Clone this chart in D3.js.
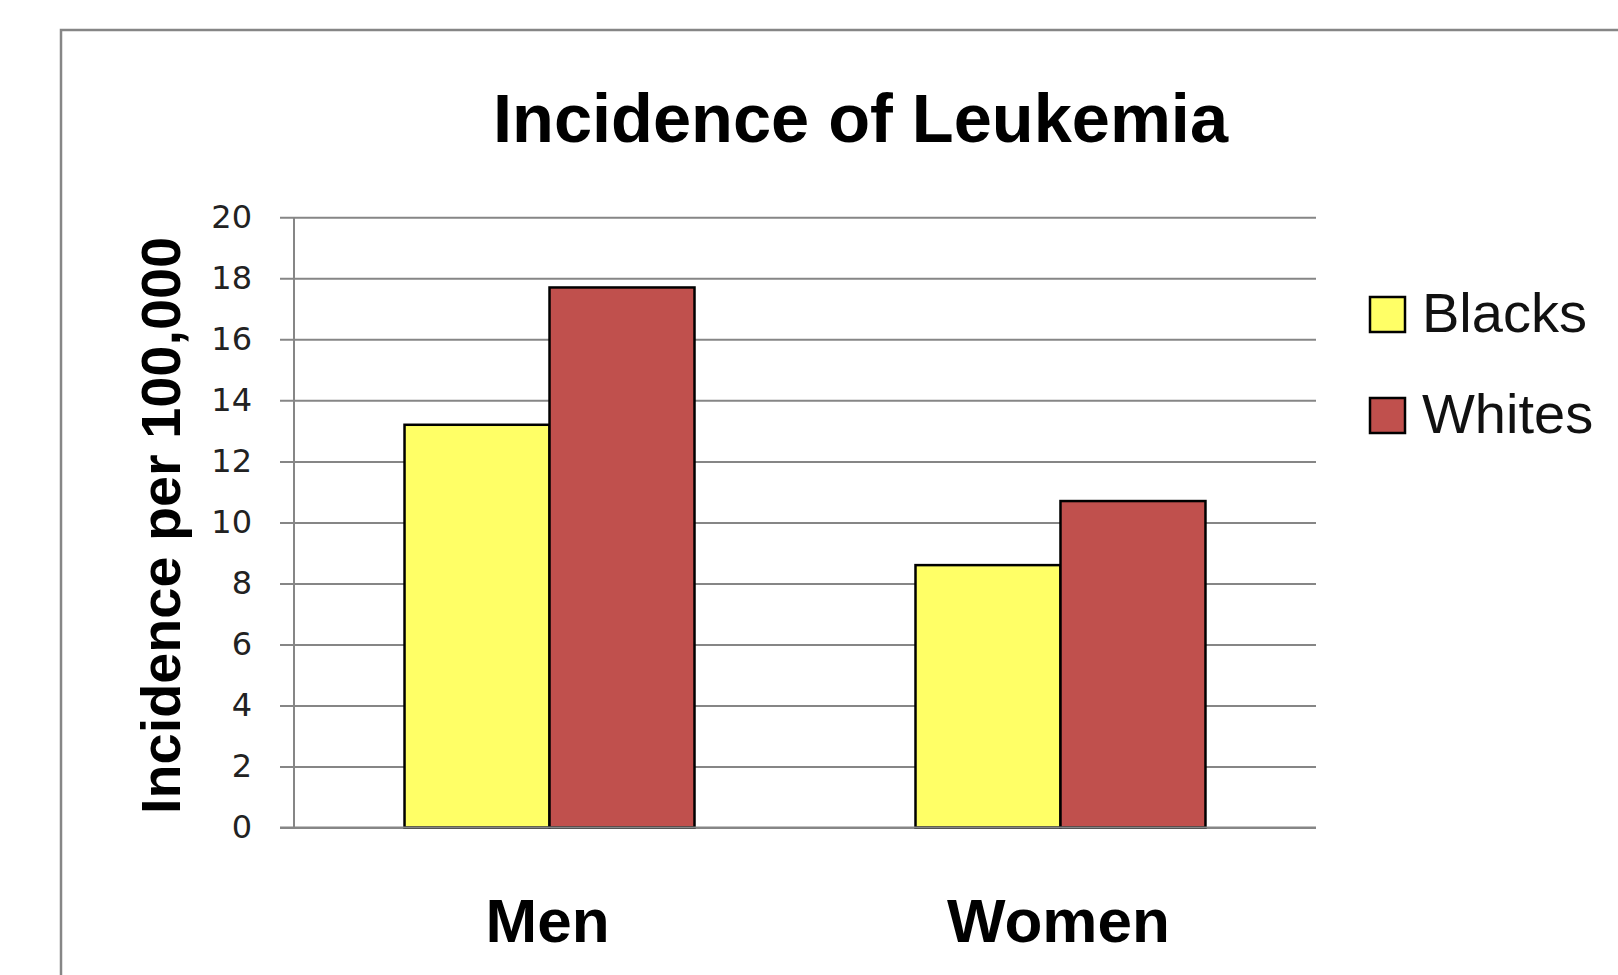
<html>
<head>
<script src="https://d3js.org/d3.v7.min.js"></script>
<style>
body { margin: 0; background: #fff; }
svg { display: block; }
.grid line { stroke: #868686; stroke-width: 2; }
.grid text { font-family: 'DejaVu Sans', sans-serif; font-size: 32px; fill: #222; }
</style>
</head>
<body>
<div id="plot"></div>
<script>

var categories = ["Men", "Women"];
var series = ["Blacks", "Whites"];
var blacks = [13.2, 8.6];
var whites = [17.7, 10.7];
var yTicks = [0, 2, 4, 6, 8, 10, 12, 14, 16, 18, 20];
var colors = ["#ffff66", "#c0504d"];

var width = 1618, height = 975;
// note: "top" is reserved on window, so use plot* names
var plotLeft = 294, plotRight = 1316, plotTop = 217.3, plotBottom = 827.5;

var svg = d3.select("#plot").append("svg")
.attr("width", width).attr("height", height);

// outer chart border (runs off the picture right and bottom)
svg.append("rect").attr("x", 61).attr("y", 30)
.attr("width", 1650).attr("height", 1000)
.style("fill", "none").style("stroke", "#868686").style("stroke-width", 2.5);

var yScale = d3.scaleLinear().domain([0, 20]).range([plotBottom, plotTop]);
var xScale = d3.scaleBand().domain(categories).range([plotLeft, plotRight])
.paddingInner(0.4325).paddingOuter(0.2163);
var xSub = d3.scaleBand().domain(series).range([0, xScale.bandwidth()]);

// gridlines + tick labels
var yAxis = d3.axisLeft(yScale).tickValues(yTicks)
.tickSize(-(plotRight - plotLeft + 14)).tickPadding(28);
var gridG = svg.append("g").attr("class", "grid")
.attr("transform", "translate(280,0)").call(yAxis);
gridG.select(".domain").remove();

svg.append("line").attr("x1", plotLeft).attr("x2", plotLeft)
.attr("y1", plotTop).attr("y2", plotBottom)
.style("stroke", "#868686").style("stroke-width", 2);

// bars
var rows = categories.map(function (c, i) {
  return { cat: c, values: [blacks[i], whites[i]] };
});

var groups = svg.selectAll("g.cat").data(rows).enter().append("g")
.attr("class", "cat")
.attr("transform", function (d) { return "translate(" + xScale(d.cat) + ",0)"; });

groups.selectAll("rect").data(function (d) {
  return d.values.map(function (v, j) { return { s: series[j], v: v, j: j }; });
}).enter().append("rect")
.attr("x", function (d) { return xSub(d.s); })
.attr("y", function (d) { return yScale(d.v); })
.attr("width", xSub.bandwidth())
.attr("height", function (d) { return yScale(0) - yScale(d.v); })
.style("fill", function (d) { return colors[d.j]; })
.style("stroke", "#000").style("stroke-width", 2.5);

// zero line sits on top of the bars
svg.append("line").attr("x1", 280).attr("x2", plotRight)
.attr("y1", yScale(0)).attr("y2", yScale(0))
.style("stroke", "#868686").style("stroke-width", 2);

// category labels
svg.selectAll("text.cat").data(categories).enter().append("text")
.attr("class", "cat")
.attr("x", function (d) { return xScale(d) + xScale.bandwidth() / 2 - 2; })
.attr("y", 942)
.attr("text-anchor", "middle")
.style("font-family", "'Liberation Sans', Arial, sans-serif")
.style("font-weight", "bold").style("font-size", "62px")
.text(function (d) { return d; });

// title
svg.append("text").attr("x", 860.5).attr("y", 141.7)
.attr("text-anchor", "middle")
.attr("textLength", 735).attr("lengthAdjust", "spacingAndGlyphs")
.style("font-family", "'Liberation Sans', Arial, sans-serif")
.style("font-weight", "bold").style("font-size", "69px")
.text("Incidence of Leukemia");

// y axis title
svg.append("text")
.attr("transform", "translate(180,525.5) rotate(-90)")
.attr("text-anchor", "middle")
.attr("textLength", 577).attr("lengthAdjust", "spacingAndGlyphs")
.style("font-family", "'Liberation Sans', Arial, sans-serif")
.style("font-weight", "bold").style("font-size", "56px")
.text("Incidence per 100,000");

// legend
var legend = svg.selectAll("g.legend").data(series).enter().append("g")
.attr("class", "legend")
.attr("transform", function (d, i) { return "translate(1370," + (297 + i * 101) + ")"; });

legend.append("rect").attr("width", 35).attr("height", 35)
.style("fill", function (d, i) { return colors[i]; })
.style("stroke", "#000").style("stroke-width", 2.5);

legend.append("text").attr("x", 52).attr("y", 35)
.style("font-family", "'Liberation Sans', Arial, sans-serif")
.style("font-size", "56px").style("fill", "#111")
.text(function (d) { return d; });

</script>
</body>
</html>
